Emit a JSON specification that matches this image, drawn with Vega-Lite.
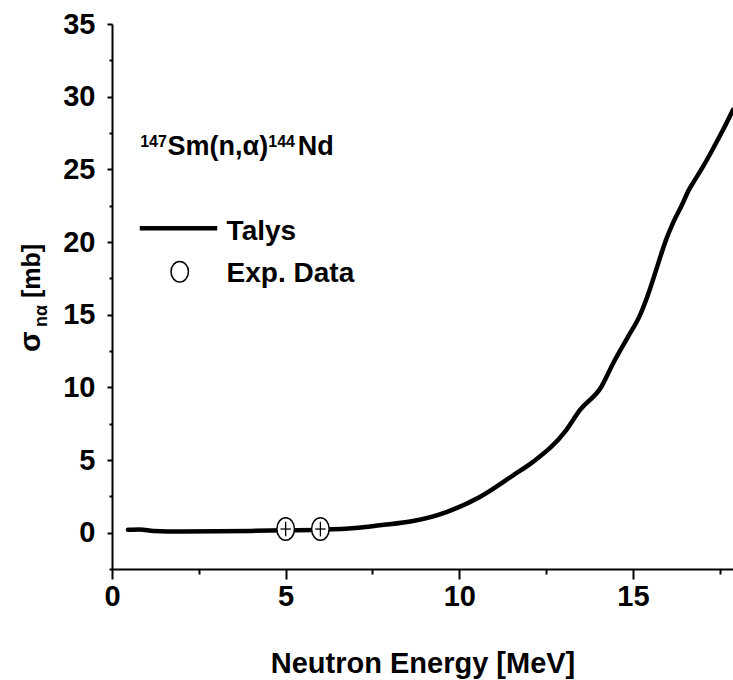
{
  "$schema": "https://vega.github.io/schema/vega-lite/v6.json",
  "width": 621,
  "height": 545,
  "autosize": {"type": "none"},
  "padding": {"left": 112, "top": 24, "right": 0, "bottom": 111},
  "background": "white",
  "config": {
    "view": {"stroke": null},
    "axis": {
      "grid": false,
      "domainColor": "black",
      "domainWidth": 2,
      "tickColor": "black",
      "tickWidth": 2,
      "labelColor": "black",
      "labelFont": "Liberation Sans, Arial",
      "labelFontWeight": "bold",
      "labelFontSize": 29,
      "titleColor": "black",
      "titleFont": "Liberation Sans, Arial",
      "titleFontWeight": "bold",
      "titleFontSize": 29
    },
    "text": {"font": "Liberation Sans, Arial", "fontWeight": "bold", "color": "black"}
  },
  "resolve": {"axis": {"x": "independent", "y": "independent"}},
  "datasets": {
    "talys": [
      {"x": 0.46, "y": 0.2}, {"x": 0.8, "y": 0.22}, {"x": 1.2, "y": 0.12}, {"x": 2.0, "y": 0.08},
      {"x": 3.0, "y": 0.09}, {"x": 4.0, "y": 0.12}, {"x": 5.0, "y": 0.16}, {"x": 6.0, "y": 0.2},
      {"x": 7.0, "y": 0.32}, {"x": 7.71, "y": 0.51}, {"x": 8.67, "y": 0.8}, {"x": 9.63, "y": 1.42},
      {"x": 10.59, "y": 2.46}, {"x": 11.55, "y": 3.95}, {"x": 12.12, "y": 4.87}, {"x": 13.08, "y": 7.06},
      {"x": 13.47, "y": 8.43}, {"x": 14.09, "y": 10.04}, {"x": 14.43, "y": 11.66}, {"x": 14.86, "y": 13.49},
      {"x": 15.19, "y": 14.9}, {"x": 15.48, "y": 16.7}, {"x": 15.67, "y": 18.1}, {"x": 15.96, "y": 20.2},
      {"x": 16.15, "y": 21.3}, {"x": 16.44, "y": 22.7}, {"x": 16.59, "y": 23.5}, {"x": 16.73, "y": 24.07},
      {"x": 17.02, "y": 25.2}, {"x": 17.3, "y": 26.4}, {"x": 17.59, "y": 27.7}, {"x": 17.88, "y": 29.1}
    ],
    "exp": [
      {"x": 5.0, "y": 0.25, "ylo": -0.25, "yhi": 0.75, "xlo": 4.85, "xhi": 5.15},
      {"x": 6.0, "y": 0.25, "ylo": -0.25, "yhi": 0.75, "xlo": 5.85, "xhi": 6.15}
    ],
    "legline": [{"x": 0.8, "x2": 3.03, "y": 20.95}],
    "legpoint": [{"x": 1.95, "y": 17.96}],
    "legtext": [
      {"x": 3.3, "y": 20.14, "t": "Talys"},
      {"x": 3.3, "y": 17.27, "t": "Exp. Data"}
    ],
    "annBig": [
      {"x": 1.6, "y": 25.99, "t": "Sm(n,α)"},
      {"x": 5.35, "y": 25.99, "t": "Nd"}
    ],
    "annSup": [
      {"x": 0.81, "y": 26.56, "t": "147"},
      {"x": 4.5, "y": 26.56, "t": "144"}
    ],
    "ytitleBig": [
      {"x": -2.073, "y": 12.43, "t": "σ"}
    ],
    "ytitleMb": [
      {"x": -2.073, "y": 16.15, "t": "[mb]"}
    ],
    "ytitleSub": [
      {"x": -1.87, "y": 14.15, "t": "nα"}
    ]
  },
  "layer": [
    {
      "data": {"name": "talys"},
      "mark": {"type": "line", "color": "black", "strokeWidth": 4.5, "strokeJoin": "round", "strokeCap": "round", "interpolate": "monotone"},
      "encoding": {
        "x": {
          "field": "x", "type": "quantitative",
          "scale": {"domain": [0, 17.88], "nice": false, "zero": false},
          "axis": {
            "orient": "bottom",
            "values": [0, 5, 10, 15],
            "format": "d",
            "tickSize": 10,
            "labelPadding": 3,
            "labelFlush": false,
            "labelOverlap": false,
            "title": "Neutron Energy [MeV]",
            "titleY": 103,
            "titleBaseline": "alphabetic"
          }
        },
        "y": {
          "field": "y", "type": "quantitative",
          "scale": {"domain": [-2.5, 35], "nice": false, "zero": false},
          "axis": {
            "orient": "left",
            "values": [0, 5, 10, 15, 20, 25, 30, 35],
            "format": "d",
            "tickSize": 5,
            "labelPadding": 12,
            "labelFlush": false,
            "labelOverlap": false,
            "title": null
          }
        }
      }
    },
    {
      "data": {"name": "exp"},
      "mark": {"type": "point", "shape": "M0,-1A0.78,1 0 1,1 0,1A0.78,1 0 1,1 0,-1Z", "size": 506, "filled": false, "fill": "white", "fillOpacity": 1, "stroke": "black", "strokeWidth": 1.5, "opacity": 1},
      "encoding": {
        "x": {
          "field": "x", "type": "quantitative",
          "axis": {"orient": "bottom", "values": [2.5, 7.5, 12.5, 17.5], "labels": false, "domain": false, "tickSize": 5, "title": null}
        },
        "y": {
          "field": "y", "type": "quantitative",
          "axis": {"orient": "left", "values": [-2.5, 2.5, 7.5, 12.5, 17.5, 22.5, 27.5, 32.5], "labels": false, "domain": false, "tickSize": 3, "title": null}
        }
      }
    },
    {
      "data": {"name": "exp"},
      "mark": {"type": "rule", "color": "black", "strokeWidth": 1.3},
      "encoding": {
        "x": {"field": "x", "type": "quantitative", "axis": null},
        "y": {"field": "ylo", "type": "quantitative", "axis": null},
        "y2": {"field": "yhi"}
      }
    },
    {
      "data": {"name": "exp"},
      "mark": {"type": "rule", "color": "black", "strokeWidth": 1.3},
      "encoding": {
        "x": {"field": "xlo", "type": "quantitative", "axis": null},
        "x2": {"field": "xhi"},
        "y": {"field": "y", "type": "quantitative", "axis": null}
      }
    },
    {
      "data": {"name": "legline"},
      "mark": {"type": "rule", "color": "black", "strokeWidth": 4.5},
      "encoding": {
        "x": {"field": "x", "type": "quantitative", "axis": null},
        "x2": {"field": "x2"},
        "y": {"field": "y", "type": "quantitative", "axis": null}
      }
    },
    {
      "data": {"name": "legpoint"},
      "mark": {"type": "point", "shape": "M0,-1A0.85,1 0 1,1 0,1A0.85,1 0 1,1 0,-1Z", "size": 420, "filled": false, "fill": "white", "fillOpacity": 1, "stroke": "black", "strokeWidth": 1.5, "opacity": 1},
      "encoding": {
        "x": {"field": "x", "type": "quantitative", "axis": null},
        "y": {"field": "y", "type": "quantitative", "axis": null}
      }
    },
    {
      "data": {"name": "legtext"},
      "mark": {"type": "text", "fontSize": 28, "align": "left", "baseline": "alphabetic"},
      "encoding": {
        "x": {"field": "x", "type": "quantitative", "axis": null},
        "y": {"field": "y", "type": "quantitative", "axis": null},
        "text": {"field": "t"}
      }
    },
    {
      "data": {"name": "annBig"},
      "mark": {"type": "text", "fontSize": 27, "align": "left", "baseline": "alphabetic"},
      "encoding": {
        "x": {"field": "x", "type": "quantitative", "axis": null},
        "y": {"field": "y", "type": "quantitative", "axis": null},
        "text": {"field": "t"}
      }
    },
    {
      "data": {"name": "annSup"},
      "mark": {"type": "text", "fontSize": 16, "align": "left", "baseline": "alphabetic"},
      "encoding": {
        "x": {"field": "x", "type": "quantitative", "axis": null},
        "y": {"field": "y", "type": "quantitative", "axis": null},
        "text": {"field": "t"}
      }
    },
    {
      "data": {"name": "ytitleBig"},
      "mark": {"type": "text", "fontSize": 30, "align": "left", "baseline": "alphabetic", "angle": 270},
      "encoding": {
        "x": {"field": "x", "type": "quantitative", "axis": null},
        "y": {"field": "y", "type": "quantitative", "axis": null},
        "text": {"field": "t"}
      }
    },
    {
      "data": {"name": "ytitleMb"},
      "mark": {"type": "text", "fontSize": 25, "align": "left", "baseline": "alphabetic", "angle": 270},
      "encoding": {
        "x": {"field": "x", "type": "quantitative", "axis": null},
        "y": {"field": "y", "type": "quantitative", "axis": null},
        "text": {"field": "t"}
      }
    },
    {
      "data": {"name": "ytitleSub"},
      "mark": {"type": "text", "fontSize": 18, "align": "left", "baseline": "alphabetic", "angle": 270},
      "encoding": {
        "x": {"field": "x", "type": "quantitative", "axis": null},
        "y": {"field": "y", "type": "quantitative", "axis": null},
        "text": {"field": "t"}
      }
    }
  ]
}
